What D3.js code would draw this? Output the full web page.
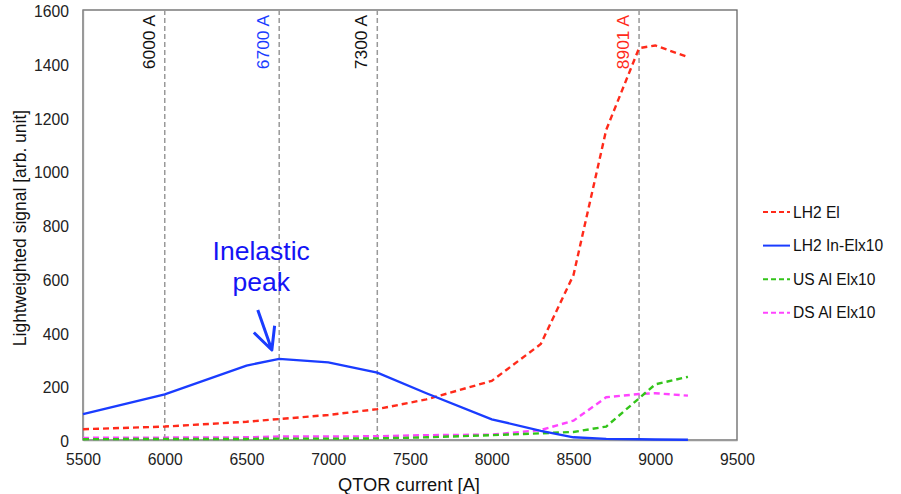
<!DOCTYPE html>
<meta charset="utf-8">
<title>QTOR scan</title>
<style>
    body { margin: 0; background: #fff; }
    svg text { font-family: "Liberation Sans", Arial, sans-serif; }
    .tick text { font-size: 15.7px; fill: #222; }
    .axis .domain { stroke: #999; stroke-width: 1.3; }
    .axis .tick line { stroke: none; }
    .refline { stroke: #999; stroke-width: 1.5; stroke-dasharray: 5,3; }
    .series { fill: none; stroke-width: 2.4; }
</style>
<body>
<svg width="901" height="494"></svg>
<script src="https://d3js.org/d3.v7.min.js"></script>
<script>
    // QTOR current settings [A]
    var current = [5500, 6000, 6500, 6700, 7000, 7300, 7600, 8000, 8300, 8500, 8700, 8901, 9000, 9200];

    // signals [arb. unit]
    var lh2El     = [40, 50, 68, 78, 93, 115, 151, 220, 357, 614, 1154, 1458, 1468, 1425];
    var lh2InEl   = [96, 170, 277, 302, 289, 251, 174, 77, 34, 10, 4, 3, 2, 1];
    var usAlEl    = [3, 4, 4, 5, 5, 6, 10, 18, 25, 30, 50, 155, 207, 235];
    var dsAlEl    = [8, 9, 10, 13, 13, 14, 18, 20, 37, 72, 159, 171, 174, 165];

    var seriesNames  = ["LH2 El", "LH2 In-Elx10", "US Al Elx10", "DS Al Elx10"];
    var seriesColors = ["#ff2a1a", "#1a3cff", "#33c41a", "#ff44ff"];
    var seriesDash   = ["6,4", null, "6,4", "6,4"];

    // marked currents
    var marks      = [6000, 6700, 7300, 8901];
    var markLabels = ["6000 A", "6700 A", "7300 A", "8901 A"];
    var markColors = ["#111", "#1a3cff", "#111", "#ff2a1a"];

    var xTicks = [5500, 6000, 6500, 7000, 7500, 8000, 8500, 9000, 9500];
    var yTicks = [0, 200, 400, 600, 800, 1000, 1200, 1400, 1600];

    var margin = {top: 10, left: 83, right: 164, bottom: 54},
        width = 901 - margin.left - margin.right,
        height = 494 - margin.top - margin.bottom;

    var svg = d3.select("svg");
    var g = svg.append("g").attr("transform", "translate(" + margin.left + "," + margin.top + ")");

    var x = d3.scaleLinear().domain([5500, 9500]).range([0, width]);
    var y = d3.scaleLinear().domain([0, 1600]).range([height, 0]);

    // frame
    g.append("rect")
        .attr("width", width).attr("height", height)
        .attr("fill", "none").attr("stroke", "#666").attr("stroke-width", 1.3);

    g.append("g")
        .attr("class", "axis")
        .attr("transform", "translate(0," + height + ")")
        .call(d3.axisBottom(x).tickValues(xTicks).tickSize(0).tickPadding(14).tickFormat(d3.format("d")));
    g.append("g")
        .attr("class", "axis")
        .call(d3.axisLeft(y).tickValues(yTicks).tickSize(0).tickPadding(14).tickFormat(d3.format("d")))
        .selectAll(".tick text").attr("dy", "0.42em");

    // reference lines
    g.selectAll(".refline").data(marks).enter()
        .append("line")
        .attr("class", "refline")
        .attr("x1", d => x(d)).attr("x2", d => x(d))
        .attr("y1", 0).attr("y2", height);
    g.selectAll(".marklabel").data(marks).enter()
        .append("text")
        .attr("transform", d => "translate(" + (x(d) - 10) + ",5) rotate(-90)")
        .attr("text-anchor", "end")
        .style("font-size", "17.4px")
        .attr("fill", (d, i) => markColors[i])
        .text((d, i) => markLabels[i]);

    var line = d3.line().x((d, i) => x(current[i])).y(d => y(d));
    var allSeries = [lh2El, lh2InEl, usAlEl, dsAlEl];
    // draw small ones first so the big ones sit on top
    [3, 2, 0, 1].forEach(function(k) {
        g.append("path")
            .attr("class", "series")
            .attr("d", line(allSeries[k]))
            .attr("stroke", seriesColors[k])
            .attr("stroke-dasharray", seriesDash[k]);
    });

    // annotation
    var ann = g.append("g").attr("fill", "#1414f5");
    ann.append("text").attr("x", x(6590)).attr("y", y(670)).attr("text-anchor", "middle")
        .style("font-size", "26.5px").text("Inelastic");
    ann.append("text").attr("x", x(6590)).attr("y", y(555)).attr("text-anchor", "middle")
        .style("font-size", "26.5px").text("peak");
    var tip = [x(6655), y(335)];
    g.append("path")
        .attr("d", "M" + x(6569) + "," + y(484) + "L" + tip[0] + "," + tip[1]
            + "M" + x(6545) + "," + y(400) + "L" + tip[0] + "," + tip[1]
            + "L" + x(6672) + "," + y(425))
        .attr("fill", "none").attr("stroke", "#1a3cff").attr("stroke-width", 3)
        .attr("stroke-linejoin", "round");

    // axis titles
    svg.append("text")
        .attr("x", margin.left + x(7500) - 1).attr("y", 491)
        .attr("text-anchor", "middle").style("font-size", "18.3px").attr("fill", "#111")
        .text("QTOR current [A]");
    svg.append("text")
        .attr("transform", "translate(26," + (margin.top + y(800) + 3) + ") rotate(-90)")
        .attr("text-anchor", "middle").style("font-size", "17.5px").attr("fill", "#111")
        .text("Lightweighted signal [arb. unit]");

    // legend
    var legend = svg.append("g").attr("transform", "translate(763,212)");
    var item = legend.selectAll(".item").data(seriesNames).enter()
        .append("g").attr("transform", (d, i) => "translate(0," + i * 33.6 + ")");
    item.append("line")
        .attr("x1", 0).attr("x2", 27).attr("y1", 0).attr("y2", 0)
        .attr("stroke", (d, i) => seriesColors[i]).attr("stroke-width", 2)
        .attr("stroke-dasharray", (d, i) => seriesDash[i] ? "5,3" : null);
    item.append("text")
        .attr("x", 30).attr("y", 5.5)
        .style("font-size", "15.6px").attr("fill", "#111")
        .text(d => d);
</script>
</body>
